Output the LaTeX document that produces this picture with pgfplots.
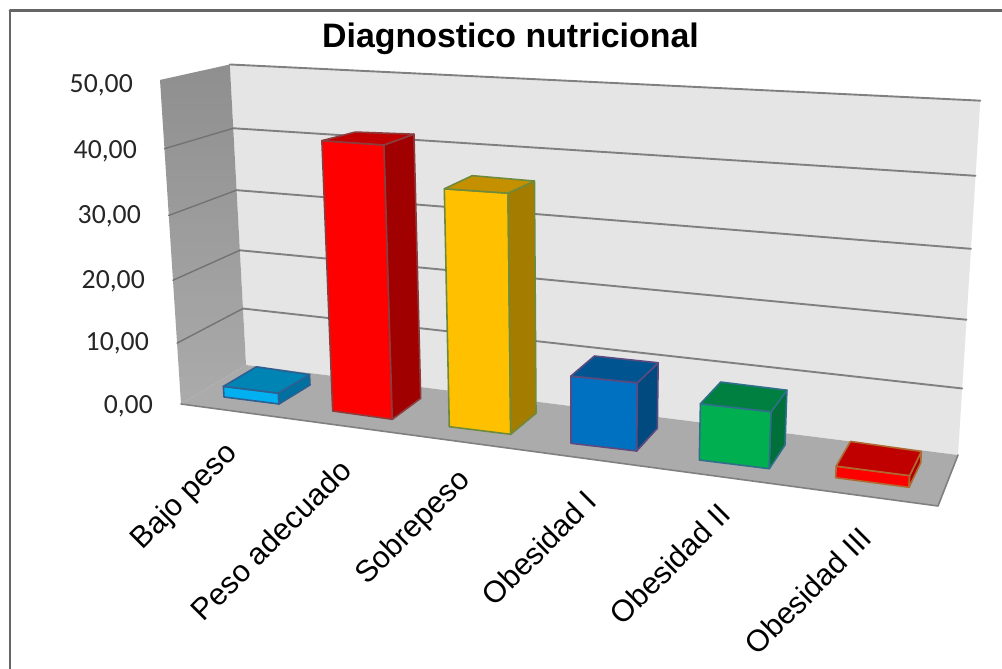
\documentclass[border=0pt]{standalone}
\usepackage{pgfplots}
\usepackage{pgfplotstable}
\usepackage{fontspec}
\pgfplotsset{compat=1.18}
\setmainfont{Liberation Sans}
\newfontfamily\calibri{Carlito}

% Face colours of each column: front, top, side, edge
\definecolor{f0}{HTML}{00B0F0}\definecolor{t0}{HTML}{0084B4}\definecolor{s0}{HTML}{0070A0}\definecolor{e0}{HTML}{2F5F90}
\definecolor{f1}{HTML}{FF0000}\definecolor{t1}{HTML}{C00000}\definecolor{s1}{HTML}{A00000}\definecolor{e1}{HTML}{8C3C3C}
\definecolor{f2}{HTML}{FFC000}\definecolor{t2}{HTML}{C49000}\definecolor{s2}{HTML}{A37C00}\definecolor{e2}{HTML}{6E8A3C}
\definecolor{f3}{HTML}{0070C0}\definecolor{t3}{HTML}{005590}\definecolor{s3}{HTML}{004A80}\definecolor{e3}{HTML}{5B4A80}
\definecolor{f4}{HTML}{00B050}\definecolor{t4}{HTML}{008040}\definecolor{s4}{HTML}{006F3A}\definecolor{e4}{HTML}{2F6F8A}
\definecolor{f5}{HTML}{FF0000}\definecolor{t5}{HTML}{C00000}\definecolor{s5}{HTML}{B00000}\definecolor{e5}{HTML}{B06A30}

% One row per category: percentage, then the footprint on the floor
% (front left, front right, back right, back left)
\pgfplotstableread{
valor flx   fly   frx   fry   brx   bry   blx   bly
1.8   224.0 397.0 279.0 404.0 310.0 385.0 257.0 377.0
41.7  332.7 411.0 392.3 419.3 420.7 398.3 364.5 394.0
36.0  449.3 426.7 510.7 434.3 536.0 413.3 476.0 404.0
10.3  571.0 443.3 636.7 451.0 657.3 428.3 594.3 420.7
8.4   699.3 460.0 769.3 468.7 785.0 445.0 719.5 436.0
1.7   835.7 477.7 909.0 487.3 920.7 462.7 850.0 452.5
}\barras

% Oblique projection: raises a floor point (#1,#2) to height #3 on the 0-50 scale,
% storing the picture position in \<#4>x and \<#4>y
\newcommand\proy[4]{%
  \pgfmathsetmacro\esc{#3/50}%
  \pgfmathsetmacro\fracc{\esc*(0.925+0.075*\esc)}%
  \pgfmathsetmacro\alt{(0.05306+0.0001007*(#2-404))*\fracc}%
  \pgfmathsetmacro\tmpx{#1+(#1-577)*\alt}%
  \pgfmathsetmacro\tmpy{#2+(#2-6512)*\alt}%
  \expandafter\edef\csname #4x\endcsname{\tmpx}%
  \expandafter\edef\csname #4y\endcsname{\tmpy}%
}
\newcommand\celda[2]{%
  \pgfplotstablegetelem{#1}{#2}\of\barras
  \expandafter\edef\csname #2\endcsname{\pgfplotsretval}%
}
\newcommand\escala[3]{\node[anchor=east, inner sep=0pt, text=black!85, font=\calibri\fontsize{27.7}{30}\selectfont] at (axis cs:#1,#2) {#3};}
\newcommand\categoria[3]{\node[rotate=45, inner sep=0pt, font=\fontsize{30.4}{32}\selectfont] at (axis cs:#1,#2) {#3};}

\begin{document}
\begin{tikzpicture}
\begin{axis}[
  hide axis,
  scale only axis,
  width=1002pt, height=669pt,
  xmin=0, xmax=1002, ymin=0, ymax=669,
  y dir=reverse,
  clip=true,
  every axis plot/.append style={line join=round, line cap=round},
]
% chart area
\addplot[fill=white, draw=none] coordinates {(0,0) (1002,0) (1002,669) (0,669)} -- cycle;
\addplot[draw=black!60, line width=1.8pt] coordinates {(10,669) (10,10.5) (1002,10.5)};
\addplot[draw=black!60, line width=2.8pt] coordinates {(10,10.5) (1002,10.5)};

% back wall
\proy{246}{365}{50}{a}\proy{958}{455}{50}{b}
\edef\cmd{\noexpand\addplot[fill=black!10, draw=none] coordinates {(246,365) (958,455) (\bx,\by) (\ax,\ay)} -- cycle;}\cmd
% side wall
\proy{181}{404}{50}{c}
\edef\cmd{\noexpand\addplot[top color=black!44, bottom color=black!33, draw=none] coordinates {(181,404) (246,365) (\ax,\ay) (\cx,\cy)} -- cycle;}\cmd
% floor
\addplot[fill=black!33, draw=none] coordinates {(181,404) (246,365) (958,455) (938,506)} -- cycle;
\addplot[draw=black!50, line width=1.6pt] coordinates {(181,404) (938,506) (958,455)};

% gridlines on both walls
\foreach \v in {10,20,30,40,50}{
  \proy{181}{404}{\v}{p}\proy{246}{365}{\v}{q}\proy{958}{455}{\v}{r}
  \edef\cmd{\noexpand\addplot[draw=black!50, line width=1.9pt] coordinates {(\qx,\qy) (\rx,\ry)};}\cmd
  \ifnum\v<50
    \edef\cmd{\noexpand\addplot[draw=black!55, line width=1.4pt] coordinates {(\px,\py) (\qx,\qy)};}\cmd
  \fi
}

% columns
\foreach \i in {0,...,5}{
  \celda{\i}{valor}\celda{\i}{flx}\celda{\i}{fly}\celda{\i}{frx}\celda{\i}{fry}
  \celda{\i}{brx}\celda{\i}{bry}\celda{\i}{blx}\celda{\i}{bly}
  \proy{\flx}{\fly}{\valor}{tl}\proy{\frx}{\fry}{\valor}{tr}
  \proy{\brx}{\bry}{\valor}{ur}\proy{\blx}{\bly}{\valor}{ul}
  \edef\cmd{\noexpand\addplot[fill=f\i, draw=e\i, line width=1.6pt] coordinates {(\flx,\fly) (\frx,\fry) (\trx,\try) (\tlx,\tly)} -- cycle;
    \noexpand\addplot[fill=s\i, draw=e\i, line width=1.6pt] coordinates {(\frx,\fry) (\brx,\bry) (\urx,\ury) (\trx,\try)} -- cycle;
    \noexpand\addplot[fill=t\i, draw=e\i, line width=1.6pt] coordinates {(\tlx,\tly) (\trx,\try) (\urx,\ury) (\ulx,\uly)} -- cycle;}\cmd
}

% value scale
\escala{133}{85}{50,00}
\escala{137}{151}{40,00}
\escala{141}{216}{30,00}
\escala{145}{281}{20,00}
\escala{149}{343}{10,00}
\escala{153}{406}{0,00}

% category names
\categoria{185}{497}{Bajo peso}
\categoria{271}{540}{Peso adecuado}
\categoria{414}{528}{Sobrepeso}
\categoria{539}{548}{Obesidad I}
\categoria{670}{564}{Obesidad II}
\categoria{808}{591}{Obesidad III}

% title
\node[inner sep=0pt, font=\bfseries\fontsize{33.9}{36}\selectfont] at (axis cs:510.5,39) {Diagnostico nutricional};
\end{axis}
\end{tikzpicture}
\end{document}
